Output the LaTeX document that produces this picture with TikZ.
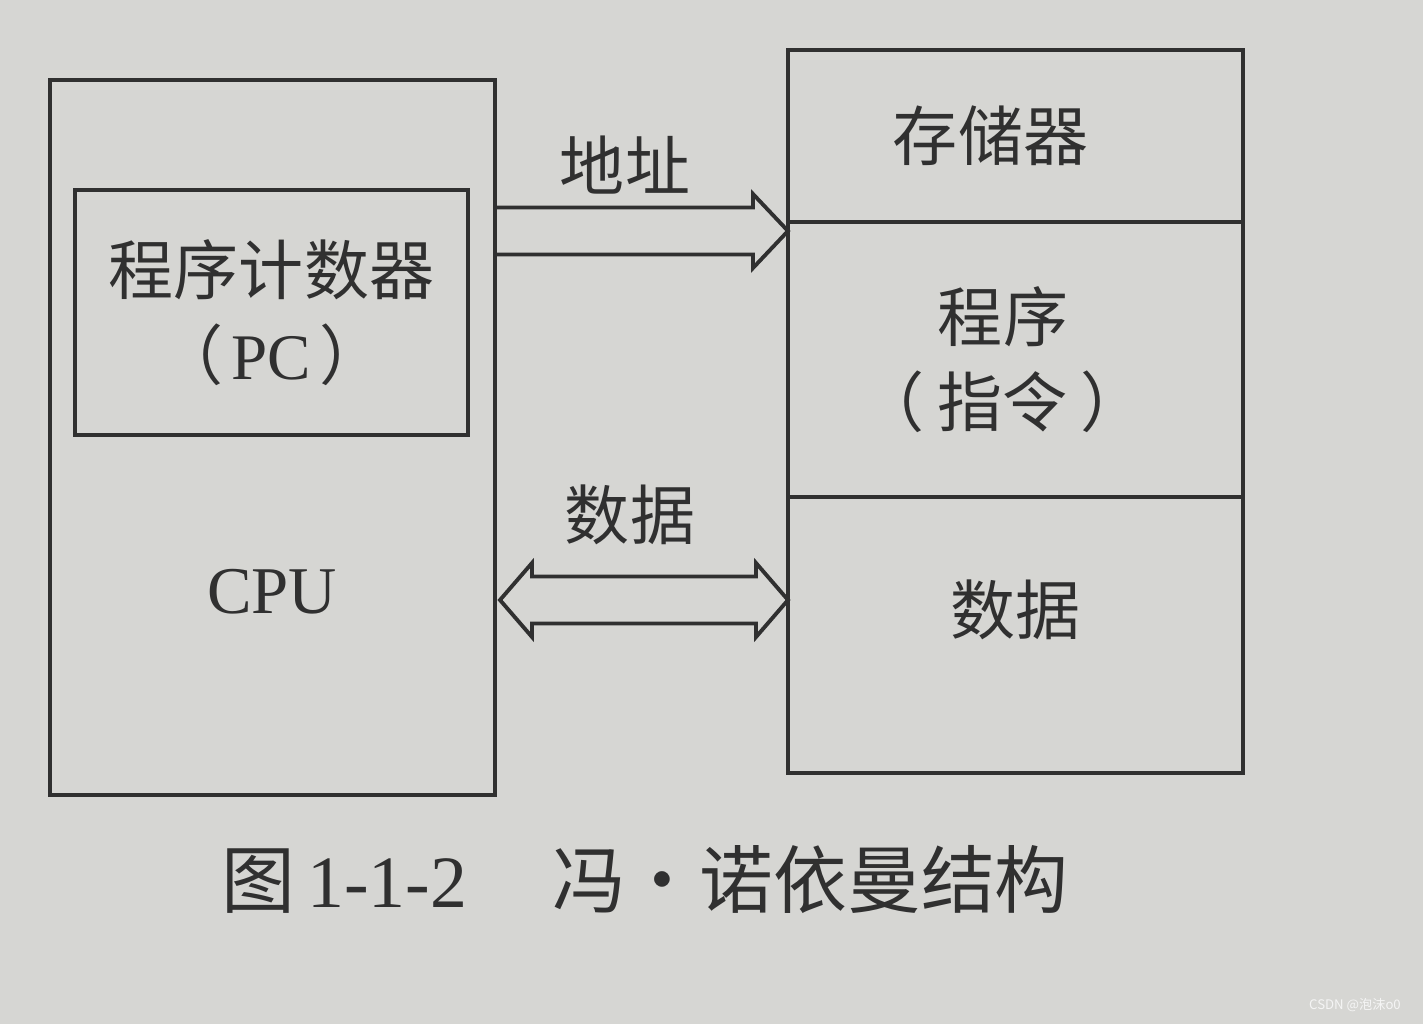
\documentclass[tikz,border=0pt]{standalone}
\usepackage{fontspec}
\setmainfont{Liberation Serif}
\newfontfamily\cjk{Noto Sans CJK SC}
\usetikzlibrary{positioning,calc}
\definecolor{paper}{RGB}{214,214,211}
\definecolor{ink}{RGB}{48,48,48}

\begin{document}
\begin{tikzpicture}[
    box/.style={rectangle, draw=ink, line width=2.6pt, inner sep=0pt, outer sep=0pt},
    big/.style={font=\fontsize{37}{48}\selectfont\cjk, text=ink, align=center},
    bus/.style={draw=ink, line width=2.2pt, line join=miter}
]
\fill[paper] (0,0) rectangle (28.46,20.48);
\useasboundingbox (0,0) rectangle (28.46,20.48);

% CPU side
\node[box, minimum width=8.9cm, minimum height=14.3cm] (cpu) at (5.45,11.73) {};
\node[box, minimum width=7.86cm, minimum height=4.9cm] (pc) at (5.43,14.23) {};
\node[big] (pctext) at (pc.center) {程序计数器\\（\hspace{0.12em}{\rmfamily PC}\hspace{0.12em}）};
\node[big, font=\fontsize{38}{48}\selectfont\rmfamily] (cputext) at (5.44,8.64) {CPU};

% memory side
\node[box, minimum width=9.1cm, minimum height=3.44cm] (store) at (20.31,17.76) {};
\node[box, minimum width=9.1cm, minimum height=5.5cm, below=0pt of store] (prog) {};
\node[box, minimum width=9.1cm, minimum height=5.52cm, below=0pt of prog] (data) {};
\node[big] (storetext) at ([xshift=-5mm]store.center) {存储器};
\node[big] (progtext) at ([xshift=-2.5mm]prog.center) {程序\\（\hspace{0.2em}指令\hspace{0.2em}）};
\node[big] (datatext) at ([yshift=5mm]data.center) {数据};

% buses
\coordinate (atip) at ($(prog.north west)+(0,-0.18)$);
\coordinate (atail) at (cpu.east |- atip);
\draw[bus] ([yshift=4.7mm]atail) -- ([shift={(-7mm,4.7mm)}]atip) -- ([shift={(-7mm,7.4mm)}]atip)
    -- (atip) -- ([shift={(-7mm,-7.4mm)}]atip) -- ([shift={(-7mm,-4.7mm)}]atip) -- ([yshift=-4.7mm]atail);
\node[big] (addrlbl) at (12.5,17.18) {地址};

\coordinate (dright) at ($(data.west)+(0,0.7)$);
\coordinate (dleft) at ($(cpu.east |- dright)+(0.1,0)$);
\draw[bus] (dleft) -- ([shift={(6.4mm,7.4mm)}]dleft) -- ([shift={(6.4mm,4.7mm)}]dleft)
    -- ([shift={(-6.4mm,4.7mm)}]dright) -- ([shift={(-6.4mm,7.4mm)}]dright) -- (dright)
    -- ([shift={(-6.4mm,-7.4mm)}]dright) -- ([shift={(-6.4mm,-4.7mm)}]dright)
    -- ([shift={(6.4mm,-4.7mm)}]dleft) -- ([shift={(6.4mm,-7.4mm)}]dleft) -- cycle;
\node[big] (datalbl) at (12.6,10.18) {数据};

% caption and mark
\node[font=\fontsize{42}{50}\selectfont, text=ink] (caption) at (12.9,2.88)
    {{\cjk 图}\,1-1-2\hspace{1.15em}{\cjk 冯・诺依曼结构}};
\node[font=\fontsize{7.5}{9}\selectfont\cjk, text=white!92!gray, anchor=east] (mark) at (28.14,0.38) {CSDN @泡沫o0};
\end{tikzpicture}
\end{document}
